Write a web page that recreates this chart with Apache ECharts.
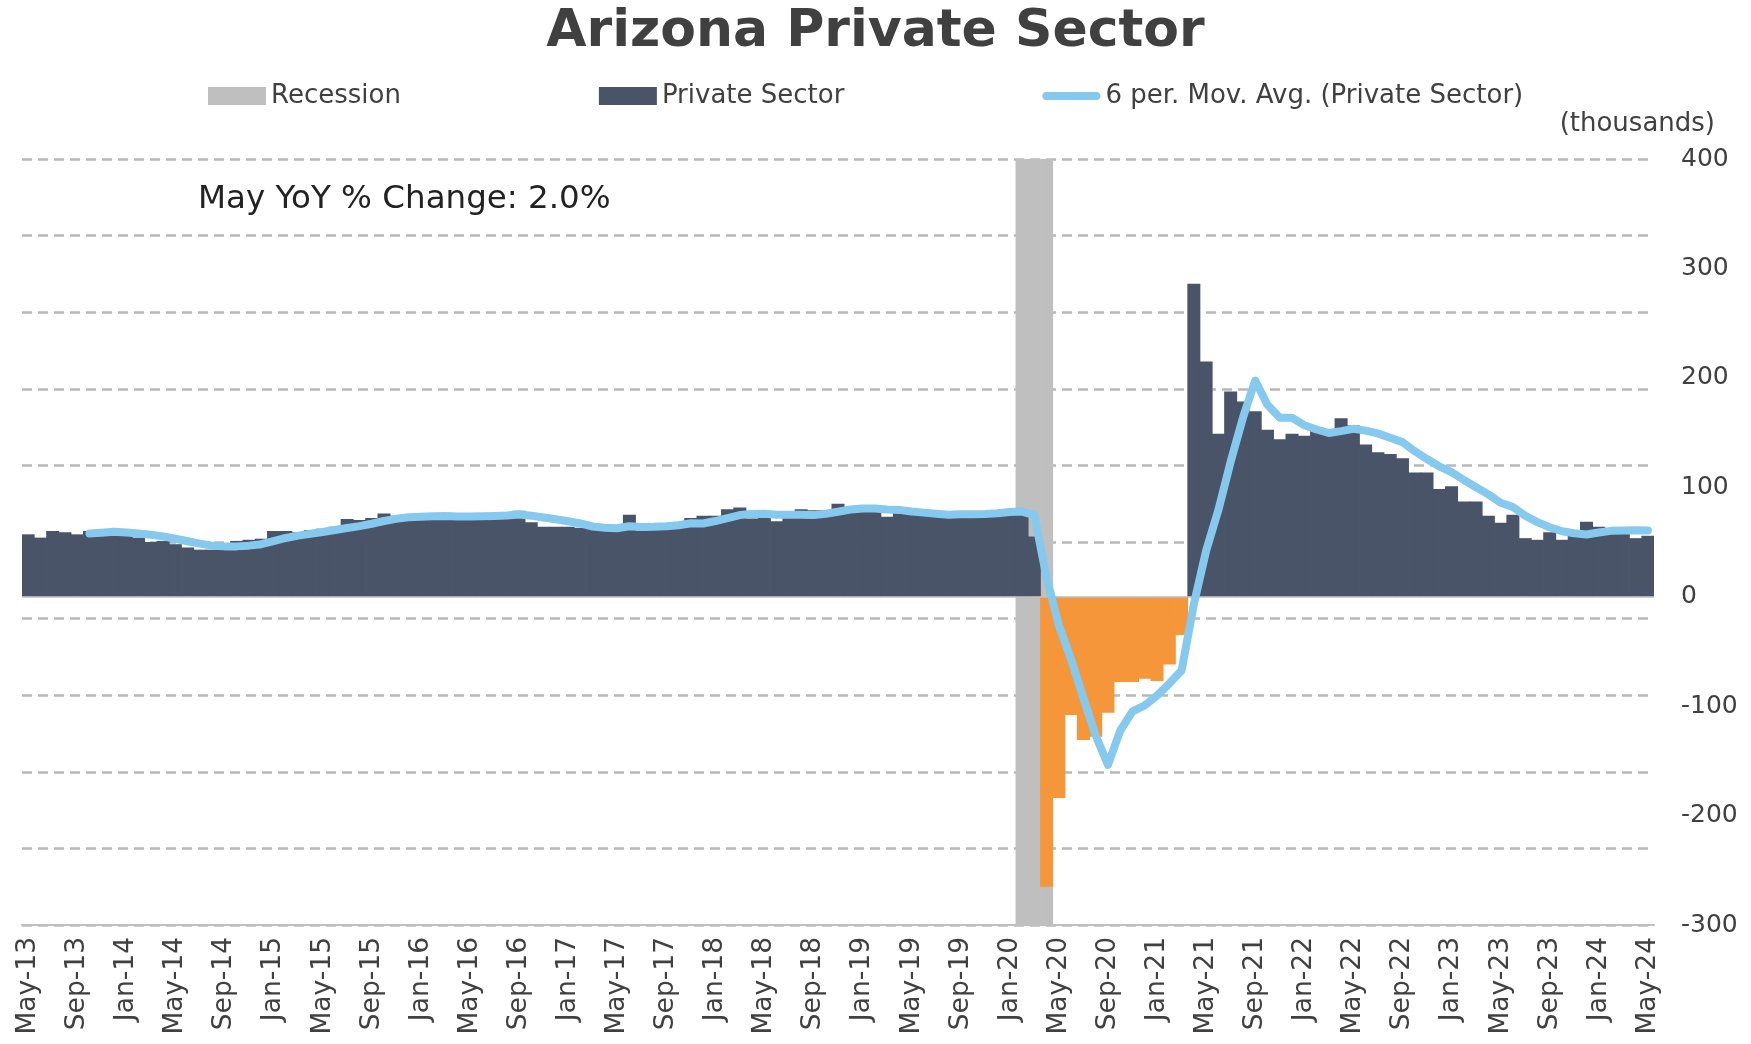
<!DOCTYPE html>
<html>
<head>
<meta charset="utf-8">
<script src="https://cdn.jsdelivr.net/npm/echarts@6/dist/echarts.min.js"></script>
<style>
html,body{margin:0;padding:0;background:#fff;}
#chart{width:1751px;height:1044px;}
</style>
</head>
<body>
<div id="chart"></div>
<script>
// ---- data, thousands, YoY change ----
const months = [
  'May-13','Jun-13','Jul-13','Aug-13','Sep-13','Oct-13','Nov-13','Dec-13',
  'Jan-14','Feb-14','Mar-14','Apr-14','May-14','Jun-14','Jul-14','Aug-14','Sep-14','Oct-14','Nov-14','Dec-14',
  'Jan-15','Feb-15','Mar-15','Apr-15','May-15','Jun-15','Jul-15','Aug-15','Sep-15','Oct-15','Nov-15','Dec-15',
  'Jan-16','Feb-16','Mar-16','Apr-16','May-16','Jun-16','Jul-16','Aug-16','Sep-16','Oct-16','Nov-16','Dec-16',
  'Jan-17','Feb-17','Mar-17','Apr-17','May-17','Jun-17','Jul-17','Aug-17','Sep-17','Oct-17','Nov-17','Dec-17',
  'Jan-18','Feb-18','Mar-18','Apr-18','May-18','Jun-18','Jul-18','Aug-18','Sep-18','Oct-18','Nov-18','Dec-18',
  'Jan-19','Feb-19','Mar-19','Apr-19','May-19','Jun-19','Jul-19','Aug-19','Sep-19','Oct-19','Nov-19','Dec-19',
  'Jan-20','Feb-20','Mar-20','Apr-20','May-20','Jun-20','Jul-20','Aug-20','Sep-20','Oct-20','Nov-20','Dec-20',
  'Jan-21','Feb-21','Mar-21','Apr-21','May-21','Jun-21','Jul-21','Aug-21','Sep-21','Oct-21','Nov-21','Dec-21',
  'Jan-22','Feb-22','Mar-22','Apr-22','May-22','Jun-22','Jul-22','Aug-22','Sep-22','Oct-22','Nov-22','Dec-22',
  'Jan-23','Feb-23','Mar-23','Apr-23','May-23','Jun-23','Jul-23','Aug-23','Sep-23','Oct-23','Nov-23','Dec-23',
  'Jan-24','Feb-24','Mar-24','Apr-24','May-24'
];

const privateSector = [
  57, 54, 60, 59, 57, 60, 61, 59,
  56, 54, 50, 51, 48, 45, 43, 43, 46, 51, 52, 53,
  60, 60, 59, 61, 62, 64, 71, 70, 72, 76, 74, 73,
  73, 73, 73, 74, 74, 74, 75, 75, 78.5, 68, 64, 64,
  64, 63, 62, 61, 61, 75, 60.5, 64, 65, 66, 72, 74,
  74, 80, 81.5, 71.5, 74, 69, 74, 80, 79, 79, 85, 81,
  80, 80, 73, 77, 76, 75, 74, 75, 75, 77, 78, 79,
  80, 78, 55, -265, -184, -108, -131, -128, -106, -78, -78, -75,
  -77, -62, -35, 286, 215, 149, 187.5, 178.5, 169.5, 152.5, 144, 149,
  147, 155, 150, 163, 156.5, 139, 132, 130.5, 126.5, 113.5, 113.5, 98.5,
  101, 87, 87, 74, 67.5, 75, 53.5, 52, 59, 52, 56.5, 68.5,
  64, 61, 61, 53.5, 55.7
];

const recessionMonths = ['Feb-20', 'Mar-20', 'Apr-20'];
const yTicks = [-300, -200, -100, 0, 100, 200, 300, 400];
const maPeriod = 6;   // Excel "6 per. Mov. Avg." trendline of the Private Sector series

// ---- derived ----
const yMin = yTicks[0], yMax = yTicks[yTicks.length - 1];
const recTop = months.map(m => recessionMonths.includes(m) ? yMax : '-');
const recBottom = months.map(m => recessionMonths.includes(m) ? yMin : '-');
const movAvg = privateSector.map((v, i) => {
  if (i < maPeriod - 1) return '-';
  let s = 0;
  for (let k = i - maPeriod + 1; k <= i; k++) s += privateSector[k];
  return +(s / maPeriod).toFixed(2);
});

const DARK = '#495468', ORANGE = '#f5963a', GRAY = '#bfbfbf', BLUE = '#86c9ee', TXT = '#404040';
const GRID = '#b8b8b8';
const FONT = 'DejaVu Sans';
const BAR_W = 13;   // slightly wider than a category so adjacent bars merge without seams

const chart = echarts.init(document.getElementById('chart'), null, {renderer: 'canvas'});
chart.setOption({
  animation: false,
  backgroundColor: '#ffffff',
  textStyle: {fontFamily: FONT},
  title: {
    text: 'Arizona Private Sector',
    left: 'center', top: 1,
    textStyle: {fontFamily: FONT, fontSize: 52, fontWeight: 'bold', color: TXT}
  },
  legend: {
    left: 203, top: 78,
    itemWidth: 58, itemHeight: 18, itemGap: 198,
    textStyle: {fontFamily: FONT, fontSize: 26, color: TXT},
    selectedMode: false,
    data: [
      {name: 'Recession', icon: 'rect', itemStyle: {color: GRAY}},
      {name: 'Private Sector', icon: 'rect', itemStyle: {color: DARK}},
      {name: '6 per. Mov. Avg. (Private Sector)',
       icon: 'path://M4,0 L54,0 A4,4 0 0 1 54,8 L4,8 A4,4 0 0 1 4,0 Z',
       itemStyle: {color: BLUE}}
    ]
  },
  graphic: [
    {type: 'text', right: 36, top: 111,
     style: {text: '(thousands)', fontFamily: FONT, fontSize: 26, fill: TXT}},
    {type: 'text', left: 198, top: 183,
     style: {text: 'May YoY % Change: 2.0%', fontFamily: FONT, fontSize: 32.5, fill: '#222222'}}
  ],
  grid: {left: 22, right: 97, top: 159, bottom: 119, containLabel: false},
  xAxis: {
    type: 'category',
    data: months,
    boundaryGap: true,
    axisLine: {onZero: false, lineStyle: {color: GRAY, width: 2}},
    axisTick: {alignWithLabel: true, interval: 3, length: 7, lineStyle: {color: GRAY, width: 1.5}},
    axisLabel: {interval: 3, rotate: 90, fontSize: 26.5, color: TXT, fontFamily: FONT, margin: 12},
    splitLine: {show: false}
  },
  yAxis: [
    {
      type: 'value', position: 'right',
      min: yMin, max: yMax, interval: 100,
      axisLine: {show: false}, axisTick: {show: false},
      axisLabel: {fontSize: 25, color: TXT, fontFamily: FONT, margin: 27},
      splitLine: {show: false}
    },
    {
      type: 'value', position: 'left',
      min: yMin, max: yMax, interval: 70,
      axisLine: {show: false}, axisTick: {show: false}, axisLabel: {show: false},
      splitLine: {show: true, lineStyle: {color: GRID, width: 2.5, type: [10, 6]}}
    }
  ],
  series: [
    {
      name: 'Recession', type: 'bar', yAxisIndex: 0,
      data: recTop, itemStyle: {color: GRAY},
      barWidth: BAR_W, barGap: '-100%', silent: true
    },
    {
      name: 'Recession', type: 'bar', yAxisIndex: 0,
      data: recBottom, itemStyle: {color: GRAY},
      barWidth: BAR_W, barGap: '-100%', silent: true
    },
    {
      name: 'Private Sector', type: 'bar', yAxisIndex: 0,
      data: privateSector.map(v => ({value: v, itemStyle: {color: v < 0 ? ORANGE : DARK}})),
      itemStyle: {color: DARK},
      barWidth: BAR_W, barGap: '-100%',
      markLine: {
        silent: true, symbol: 'none',
        label: {show: false},
        lineStyle: {color: GRAY, width: 1.5, type: 'solid'},
        data: [{yAxis: 0}]
      }
    },
    {
      name: '6 per. Mov. Avg. (Private Sector)', type: 'line', yAxisIndex: 0,
      data: movAvg, showSymbol: false, symbol: 'none', smooth: false,
      lineStyle: {color: BLUE, width: 8, cap: 'round', join: 'round'},
      itemStyle: {color: BLUE}, z: 5
    }
  ]
});
</script>
</body>
</html>
